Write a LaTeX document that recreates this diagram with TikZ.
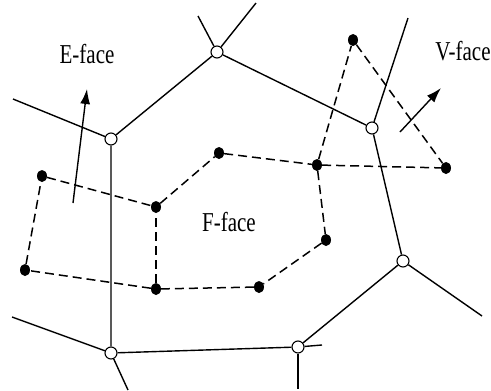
\documentclass[tikz,border=0pt]{standalone}
\usepackage{fontspec}
\setmainfont{Liberation Serif}
\usetikzlibrary{arrows.meta,shapes.geometric}
\begin{document}
\begin{tikzpicture}[x=1pt,y=-1pt,
  edge/.style={line width=1.4pt},
  dual/.style={line width=1.5pt,dash pattern=on 9pt off 5pt},
  vtx/.style={circle,draw,fill=white,line width=1.1pt,inner sep=0pt,minimum size=12pt},
  dot/.style={ellipse,fill=black,inner sep=0pt,minimum width=10pt,minimum height=12pt},
  lbl/.style={font=\fontsize{21}{21}\selectfont,yscale=1.3,inner sep=0pt},
  nrm/.style={line width=1.4pt,-{Latex[length=15pt,width=10pt]}}]
\useasboundingbox (0,0) rectangle (491,391);
% free ends
\coordinate (a0) at (13,99);
\coordinate (b1) at (198,16);
\coordinate (b2) at (256,3);
\coordinate (c0) at (408,18);
\coordinate (d0) at (482,316);
\coordinate (e0) at (298,389);
\coordinate (e1) at (322,345);
\coordinate (f0) at (12,317);
\coordinate (f1) at (128,390);
% Voronoi vertices
\node[vtx] (A) at (111,139) {};
\node[vtx] (B) at (217,52) {};
\node[vtx] (C) at (372,128) {};
\node[vtx] (D) at (403,261) {};
\node[vtx] (E) at (298,347) {};
\node[vtx] (F) at (111,353) {};
% dual points
\node[dot] (d1) at (42,176) {};
\node[dot] (d2) at (156,207) {};
\node[dot] (d3) at (219,153) {};
\node[dot] (d4) at (317,165) {};
\node[dot] (d5) at (353,40) {};
\node[dot] (d6) at (446,168) {};
\node[dot] (d7) at (326,240) {};
\node[dot] (d8) at (259,287) {};
\node[dot] (d9) at (156,289) {};
\node[dot] (d10) at (25,270) {};
% solid edges
\draw[edge] (a0) -- (A) -- (B) -- (C) -- (D) -- (E) -- (F) -- (A);
\draw[edge] (B) -- (b1);
\draw[edge] (B) -- (b2);
\draw[edge] (C) -- (c0);
\draw[edge] (D) -- (d0);
\draw[edge] (E) -- (e0);
\draw[edge] (E) -- (e1);
\draw[edge] (F) -- (f0);
\draw[edge] (F) -- (f1);
% dashed edges
\draw[dual] (d1) -- (d2);
\draw[dual] (d2) -- (d3);
\draw[dual] (d3) -- (d4);
\draw[dual] (d4) -- (d6);
\draw[dual] (d4) -- (d5);
\draw[dual] (d5) -- (d6);
\draw[dual] (d4) -- (d7);
\draw[dual] (d7) -- (d8);
\draw[dual] (d8) -- (d9);
\draw[dual] (d9) -- (d2);
\draw[dual] (d9) -- (d10);
\draw[dual] (d10) -- (d1);
% normals
\coordinate (et) at (73,203);
\coordinate (eh) at (87,89);
\coordinate (vt) at (400,132);
\coordinate (vh) at (441,88);
\draw[nrm] (et) -- (eh);
\draw[nrm] (vt) -- (vh);
% labels
\node[lbl] (le) at (87,54) {E-face};
\node[lbl] (lv) at (463,51) {V-face};
\node[lbl] (lf) at (229,222) {F-face};
\end{tikzpicture}
\end{document}
